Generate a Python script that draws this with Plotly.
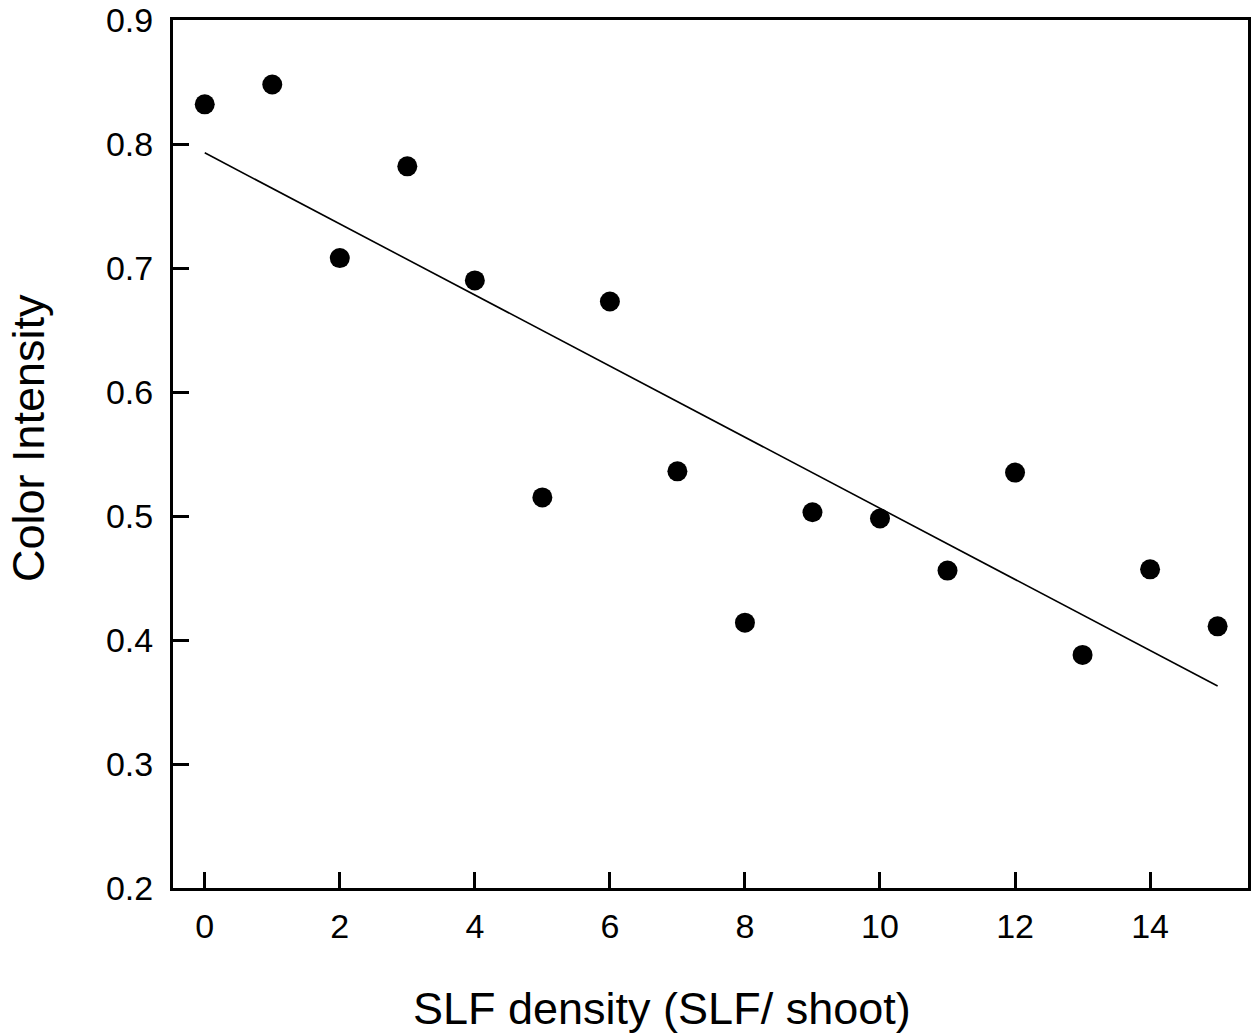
import numpy as np
import plotly.graph_objects as go

# SLF density per shoot and the measured colour intensity
slf_density = [0, 1, 2, 3, 4, 5, 6, 7, 8, 9, 10, 11, 12, 13, 14, 15]
color_intensity = [0.832, 0.848, 0.708, 0.782, 0.690, 0.515, 0.673, 0.536,
                   0.414, 0.503, 0.498, 0.456, 0.535, 0.388, 0.457, 0.411]

x_ticks = [0, 2, 4, 6, 8, 10, 12, 14]
y_ticks = [0.2, 0.3, 0.4, 0.5, 0.6, 0.7, 0.8, 0.9]

# least-squares linear fit across the observed range
slope, intercept = np.polyfit(slf_density, color_intensity, 1)
fit_x = [min(slf_density), max(slf_density)]
fit_y = [intercept + slope * v for v in fit_x]

FONT = "Liberation Sans, Arial, Helvetica, sans-serif"

fig = go.Figure()
fig.add_trace(go.Scatter(
    x=fit_x, y=fit_y, mode="lines",
    line=dict(color="black", width=1.6),
    showlegend=False, hoverinfo="skip",
))
fig.add_trace(go.Scatter(
    x=slf_density, y=color_intensity, mode="markers",
    marker=dict(color="black", size=20, line=dict(width=0)),
    showlegend=False,
))

axis_common = dict(
    showline=True, linecolor="black", linewidth=3, mirror=True,
    ticks="inside", ticklen=16, tickwidth=3, tickcolor="black",
    showgrid=False, zeroline=False,
    tickfont=dict(family=FONT, size=34, color="black"),
)

fig.update_xaxes(
    range=[-0.47, 15.45], tickvals=x_ticks, ticktext=[str(v) for v in x_ticks],
    ticklabelstandoff=6,
    **axis_common,
)
fig.update_yaxes(
    range=[0.2, 0.9], tickvals=y_ticks, ticktext=[f"{v:.1f}" for v in y_ticks],
    ticklabelstandoff=10,
    **axis_common,
)

# axis titles
fig.add_annotation(
    text="SLF density (SLF/ shoot)", xref="paper", yref="paper",
    x=(662 - 173) / 1075, y=(888 - 1008) / 868,
    xanchor="center", yanchor="middle", showarrow=False,
    font=dict(family=FONT, size=45, color="black"),
)
fig.add_annotation(
    text="Color Intensity", xref="paper", yref="paper",
    x=(28 - 173) / 1075, y=(888 - 438) / 868, textangle=-90,
    xanchor="center", yanchor="middle", showarrow=False,
    font=dict(family=FONT, size=45, color="black"),
)

fig.update_layout(
    width=1253, height=1034,
    margin=dict(l=173, r=5, t=20, b=146, autoexpand=False),
    paper_bgcolor="white", plot_bgcolor="white",
)

fig.write_html("out.html")
